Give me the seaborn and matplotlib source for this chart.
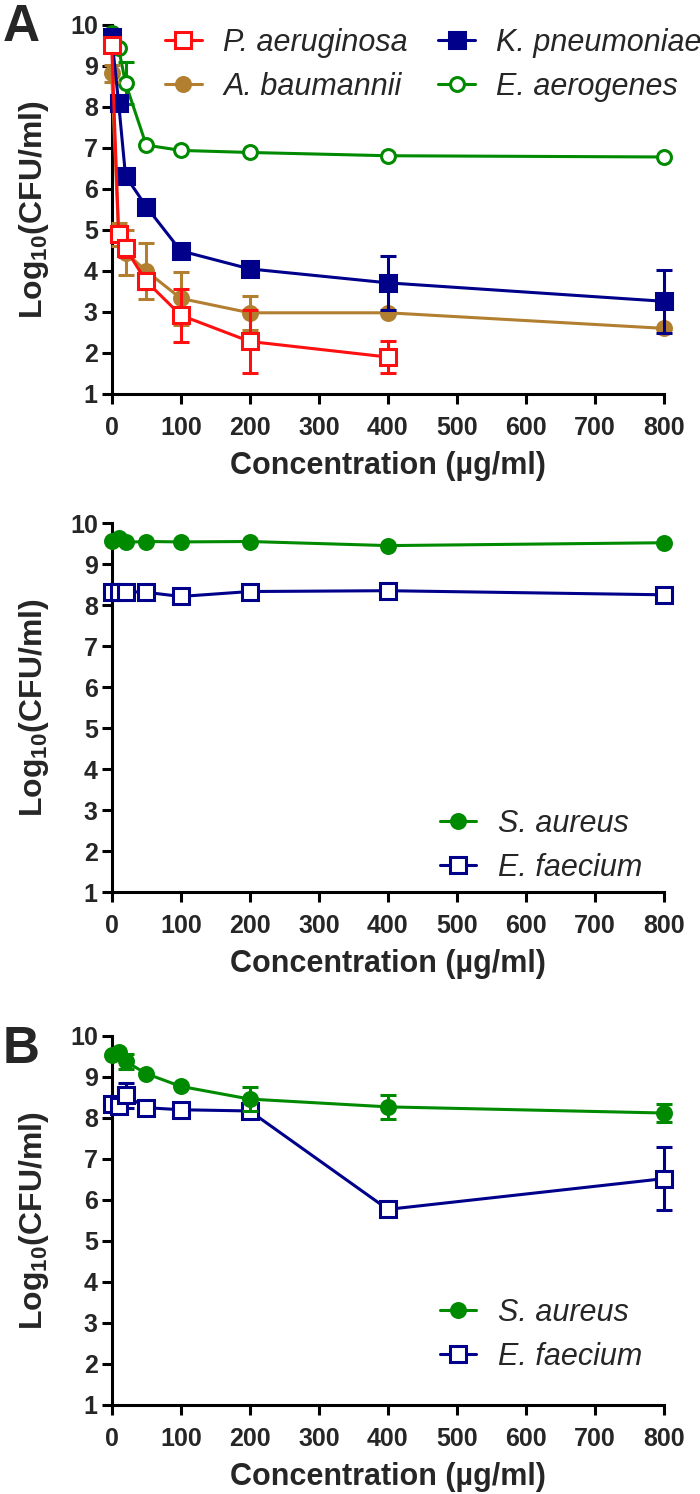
import numpy as np
import matplotlib
matplotlib.use('Agg')
import matplotlib.pyplot as plt
import seaborn as sns

sns.set_theme(style='ticks')
plt.rcParams['font.family'] = ['Liberation Sans', 'DejaVu Sans']
plt.rcParams['mathtext.fontset'] = 'custom'
plt.rcParams['mathtext.rm'] = 'Liberation Sans:bold'
plt.rcParams['mathtext.bf'] = 'Liberation Sans:bold'
plt.rcParams['mathtext.default'] = 'rm'

# concentrations (ug/ml)
conc = [0, 10, 20, 50, 100, 200, 400, 800]

# Panel A, Gram-negative
pa_mean = [9.5, 4.9, 4.55, 3.75, 2.92, 2.28, 1.9, np.nan]
pa_sd = [0, 0.15, 0.2, 0.2, 0.65, 0.78, 0.4, 0]
ab_mean = [8.82, 4.88, 4.45, 4.0, 3.33, 2.98, 2.98, 2.6]
ab_sd = [0.2, 0.28, 0.55, 0.68, 0.65, 0.42, 0, 0]
kp_mean = [9.7, 8.1, 6.32, 5.57, 4.49, 4.05, 3.71, 3.26]
kp_sd = [0, 0, 0, 0, 0, 0.12, 0.65, 0.77]
ea_mean = [9.8, 9.43, 8.58, 7.07, 6.94, 6.89, 6.81, 6.78]
ea_sd = [0, 0, 0.52, 0, 0, 0, 0, 0]

# Panel A, Gram-positive
sa_a = [9.56, 9.64, 9.53, 9.55, 9.54, 9.55, 9.45, 9.52]
ef_a = [8.33, 8.33, 8.33, 8.31, 8.21, 8.33, 8.35, 8.25]

# Panel B
sa_b = [9.54, 9.6, 9.38, 9.08, 8.77, 8.46, 8.27, 8.12]
sa_b_sd = [0, 0, 0.18, 0, 0, 0.3, 0.3, 0.22]
ef_b = [8.35, 8.3, 8.55, 8.25, 8.2, 8.17, 5.77, 6.52]
ef_b_sd = [0, 0.1, 0.3, 0, 0, 0, 0, 0.76]

RED = '#FF1010'
BROWN = '#B27F30'
NAVY = '#00008B'
GREEN = '#008A00'
LW = 2.2


def series(ax, y, sd, color, marker, filled, label, ms, z):
    sns.lineplot(x=conc, y=y, ax=ax, color=color, linewidth=LW, marker=marker,
                 markersize=ms, markerfacecolor=color if filled else 'white',
                 markeredgecolor=color, markeredgewidth=LW, label=label,
                 clip_on=False, zorder=z, errorbar=None)
    if sd is not None:
        y = np.array(y, dtype=float)
        sd = np.array(sd, dtype=float)
        m = sd > 0
        ax.errorbar(np.array(conc)[m], y[m], yerr=sd[m], fmt='none', ecolor=color,
                    elinewidth=LW, capsize=6, capthick=LW, clip_on=False, zorder=z - 0.5)


def style(ax):
    ax.set_xlim(0, 800)
    ax.set_ylim(1, 10)
    ax.set_xticks(range(0, 801, 100))
    ax.set_yticks(range(1, 11))
    sns.despine(ax=ax)
    for s in ['left', 'bottom']:
        ax.spines[s].set_linewidth(LW)
        ax.spines[s].set_color('black')
    ax.tick_params(length=7, width=LW, color='black', labelsize=18, pad=3)
    ax.tick_params(axis='x', pad=9)
    for t in ax.get_xticklabels() + ax.get_yticklabels():
        t.set_fontweight('bold')
    ax.set_xlabel('Concentration (µg/ml)', fontsize=22, fontweight='bold', labelpad=8)
    ax.set_ylabel('Log$_{10}$(CFU/ml)', fontsize=23, fontweight='bold', labelpad=14)


def legend(ax, **kw):
    ax.legend(frameon=False, prop={'style': 'italic', 'size': 22}, handlelength=1.2,
              handletextpad=0.7, labelspacing=0.45, borderaxespad=0, borderpad=0, **kw)


fig = plt.figure(figsize=(7, 14.94), dpi=100)
L, W, H = 0.1596, 0.789, 0.247

ax1 = fig.add_axes([L, 0.7363, W, H])
series(ax1, pa_mean, pa_sd, RED, 's', False, 'P. aeruginosa', 11, 7)
series(ax1, ab_mean, ab_sd, BROWN, 'o', True, 'A. baumannii', 10, 5)
series(ax1, kp_mean, kp_sd, NAVY, 's', True, 'K. pneumoniae', 11, 6)
series(ax1, ea_mean, ea_sd, GREEN, 'o', False, 'E. aerogenes', 10, 4)
style(ax1)
legend(ax1, ncol=2, loc='upper left', bbox_to_anchor=(0.0965, 0.992), columnspacing=1.0)

ax2 = fig.add_axes([L, 0.4029, W, H])
series(ax2, sa_a, None, GREEN, 'o', True, 'S. aureus', 10, 5)
series(ax2, ef_a, None, NAVY, 's', False, 'E. faecium', 11, 4)
style(ax2)
legend(ax2, loc='lower left', bbox_to_anchor=(0.594, 0.025))

ax3 = fig.add_axes([L, 0.0596, W, H])
series(ax3, sa_b, sa_b_sd, GREEN, 'o', True, 'S. aureus', 10, 5)
series(ax3, ef_b, ef_b_sd, NAVY, 's', False, 'E. faecium', 11, 4)
style(ax3)
legend(ax3, loc='lower left', bbox_to_anchor=(0.594, 0.09))

fig.text(0.004, 0.998, 'A', fontsize=37, fontweight='bold', va='top', ha='left')
fig.text(0.004, 0.314, 'B', fontsize=37, fontweight='bold', va='top', ha='left')

fig.savefig('out.png', dpi=100)
